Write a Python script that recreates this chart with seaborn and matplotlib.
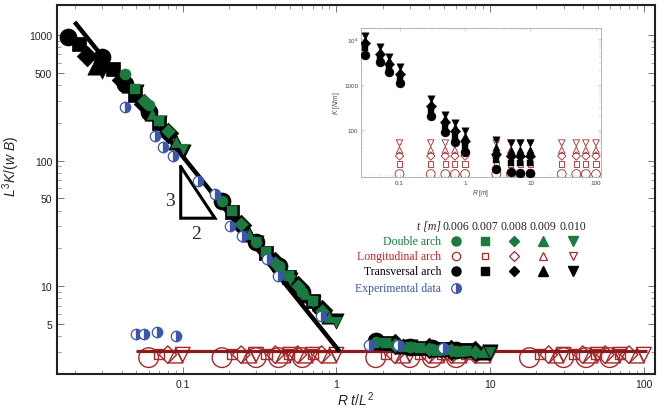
"""Collapse of arch stiffness data: L^3 K/(w B) vs R t/L^2, with K(R) inset"""

import numpy as np
import pandas as pd
import matplotlib
matplotlib.use("Agg")
import matplotlib.pyplot as plt
import matplotlib.ticker as mticker
import seaborn as sns

# ---- data -------------------------------------------------------------
L2 = 0.01  # L = 0.1 m
t_vals = [0.006, 0.007, 0.008, 0.009, 0.010]
t_labels = ["0.006", "0.007", "0.008", "0.009", "0.010"]
t_markers = ["o", "s", "D", "^", "v"]

# transversal arch (black), one row per R, one value per t
R_trans = [0.03, 0.05, 0.07, 0.1, 0.3, 0.5, 0.7, 1, 3, 5, 7, 10]
y_trans = [
    [960, 850, 680, 560, 515],
    [668, 535, 440, 400, 350],
    [410, 330, 280, 240, 200],
    [245, 200, 165, 140, 118],
    [48, 39, 31, 26, 22],
    [22.5, 18.5, 15.5, 13, 11.3],
    [14.5, 11.8, 10, 8.5, 7.4],
    [9, 7.6, 6.5, 5.8, 5.3],
    [3.65, 3.55, 3.45, 3.35, 3.3],
    [3.3, 3.25, 3.2, 3.15, 3.12],
    [3.2, 3.15, 3.1, 3.08, 3.05],
    [3.1, 3.08, 3.05, 3.02, 3.0],
]

# double arch (green)
R_double = [0.07, 0.1, 0.3, 0.5, 0.7, 1, 3, 5, 7, 10]
y_double = [
    [490, 372, 300, 235, 205],
    [277, 207, 172, 140, 123],
    [47.5, 39.6, 31.2, 26, 22.4],
    [22.4, 18.6, 15.2, 13, 11.3],
    [14.4, 12, 10, 8.6, 7.5],
    [9, 7.6, 6.4, 5.7, 5.2],
    [3.6, 3.5, 3.4, 3.35, 3.27],
    [3.27, 3.2, 3.15, 3.1, 3.09],
    [3.15, 3.1, 3.08, 3.05, 3.05],
    [3.05, 3.05, 3.02, 3.0, 3.0],
]

# longitudinal arch (red, hollow), same value for every R
R_long = [0.1, 0.3, 0.5, 0.7, 1, 3, 5, 7, 10, 30, 50, 70, 100]
y_long = [2.7, 2.9, 2.85, 2.8, 2.85]

# experimental data (blue half-filled)
exp_x = [0.042, 0.066, 0.074, 0.086, 0.125, 0.162, 0.202, 0.242, 0.352,
         0.417, 0.795, 0.050, 0.0557, 0.068, 0.090, 1.64, 2.5, 4.9]
exp_y = [267, 157, 128, 109, 69, 54, 30, 25, 16.4,
         12, 5.75, 4.2, 4.2, 4.3, 4.0, 3.4, 3.4, 3.2]

# reference lines
slope_x = [0.0198, 1.046]
slope_y = [1270, 3.03]
flat_x = [0.05, 105]
flat_y = [3.03, 3.03]
tri_x = [0.097, 0.097, 0.162, 0.097]
tri_y = [89.6, 34.8, 34.8, 89.6]

# inset: K [N/m] vs R [m]
K_trans = [
    [4500, 6500, 8000, 9500, 11500],
    [3100, 3900, 4600, 5500, 6600],
    [1870, 2400, 2900, 3400, 4000],
    [1070, 1400, 1700, 2000, 2400],
    [205, 270, 330, 400, 480],
    [92, 120, 150, 180, 215],
    [55, 75, 95, 115, 140],
    [33, 45, 58, 75, 95],
    [13.8, 22, 30, 42, 60],
    [12, 18.7, 27, 36, 53],
    [11.5, 19, 27, 37, 52],
    [11.5, 19, 27, 37, 52],
]
K_long = [10.8, 17.9, 26.9, 36.3, 51.8]

# ---- tables -----------------------------------------------------------
rows = []
for i, R in enumerate(R_trans):
    for j, t in enumerate(t_vals):
        rows.append(("trans", R, j, R * t / L2, y_trans[i][j], K_trans[i][j]))
for i, R in enumerate(R_double):
    for j, t in enumerate(t_vals):
        rows.append(("double", R, j, R * t / L2, y_double[i][j], np.nan))
for R in R_long:
    for j, t in enumerate(t_vals):
        rows.append(("long", R, j, R * t / L2, y_long[j], K_long[j]))
df = pd.DataFrame(rows, columns=["arch", "R", "ti", "x", "y", "K"])

GREEN = "#1b7a3f"
RED = "#a8282b"
DRED = "#8b1a1a"
BLUE = "#3b56ad"

sns.set_theme(style="ticks")
plt.rcParams["font.family"] = ["Liberation Sans", "DejaVu Sans"]
plt.rcParams["mathtext.fontset"] = "custom"
plt.rcParams["mathtext.it"] = "Liberation Sans:italic"
plt.rcParams["mathtext.rm"] = "Liberation Sans"

fig = plt.figure(figsize=(6.64, 4.14), dpi=100)
ax = fig.add_axes([0.0858, 0.0942, 0.9006, 0.8913])

# red hollow markers
long_sizes = [200, 55, 80, 110, 110]
for j, m in enumerate(t_markers):
    d = df[(df.arch == "long") & (df.ti == j)]
    sns.scatterplot(data=d, x="x", y="y", ax=ax, marker=m, s=long_sizes[j],
                    facecolors="none", edgecolor=RED, linewidth=1.0,
                    zorder=2, legend=False)

ax.plot(flat_x, flat_y, color=DRED, lw=2.3, zorder=3, solid_capstyle="butt")
ax.plot(slope_x, slope_y, color="black", lw=3.2, zorder=3, solid_capstyle="butt")

trans_sizes = [150, 100, 110, 120, 120]
for j, m in enumerate(t_markers):
    d = df[(df.arch == "trans") & (df.ti == j)]
    sns.scatterplot(data=d, x="x", y="y", ax=ax, marker=m, s=trans_sizes[j],
                    color="black", edgecolor="black", linewidth=0.5,
                    zorder=4, legend=False)

double_sizes = [65, 45, 50, 60, 60]
for j, m in enumerate(t_markers):
    d = df[(df.arch == "double") & (df.ti == j)]
    sns.scatterplot(data=d, x="x", y="y", ax=ax, marker=m, s=double_sizes[j],
                    color=GREEN, edgecolor=GREEN, linewidth=0.3,
                    zorder=5, legend=False)

ax.plot(exp_x, exp_y, linestyle="none", marker="o", ms=7.5, fillstyle="right",
        markerfacecolor=BLUE, markerfacecoloralt="white",
        markeredgecolor=BLUE, markeredgewidth=0.9, zorder=6)

# slope triangle
ax.plot(tri_x, tri_y, color="black", lw=2.2, zorder=3, solid_joinstyle="miter")
ax.text(0.082, 48.4, "3", fontsize=14, family=["Liberation Serif"],
        ha="center", va="center")
ax.text(0.122, 26.4, "2", fontsize=14, family=["Liberation Serif"],
        ha="center", va="center")

ax.set_xscale("log")
ax.set_yscale("log")
ax.set_xlim(0.0152, 118)
ax.set_ylim(2.0, 1734)
ax.set_xticks([0.1, 1, 10, 100])
ax.set_xticklabels(["0.1", "1", "10", "100"])
ax.set_yticks([5, 10, 50, 100, 500, 1000])
ax.set_yticklabels(["5", "10", "50", "100", "500", "1000"])
ax.xaxis.set_minor_locator(mticker.LogLocator(subs=np.arange(2, 10)))
ax.yaxis.set_minor_locator(mticker.LogLocator(subs=np.arange(2, 10)))
ax.xaxis.set_minor_formatter(mticker.NullFormatter())
ax.yaxis.set_minor_formatter(mticker.NullFormatter())
ax.tick_params(which="both", direction="in", top=True, right=True,
               color="#777777", labelsize=7.5, labelcolor="#222222")
ax.tick_params(which="major", length=5, width=0.7)
ax.tick_params(which="minor", length=3, width=0.5)
for sp in ax.spines.values():
    sp.set_linewidth(1.5)
    sp.set_color("#222222")

ax.set_xlabel(r"$R\ t/L^{2}$", fontsize=10)
ax.set_ylabel(r"$L^{3}K/(w\ B)$", fontsize=10)
ax.xaxis.set_label_coords(0.50, -0.043)
ax.yaxis.set_label_coords(-0.058, 0.565)

# ---- inset ------------------------------------------------------------
axi = fig.add_axes([0.544, 0.570, 0.361, 0.360])
in_long_sizes = [40, 14, 18, 22, 22]
in_trans_sizes = [42, 25, 28, 28, 28]
for j, m in enumerate(t_markers):
    d = df[(df.arch == "long") & (df.ti == j)]
    sns.scatterplot(data=d, x="R", y="K", ax=axi, marker=m, s=in_long_sizes[j],
                    facecolors="none", edgecolor=RED, linewidth=0.6,
                    zorder=2, legend=False)
for j, m in enumerate(t_markers):
    d = df[(df.arch == "trans") & (df.ti == j)]
    sns.scatterplot(data=d, x="R", y="K", ax=axi, marker=m, s=in_trans_sizes[j],
                    color="black", edgecolor="black", linewidth=0.3,
                    zorder=3, legend=False)
axi.set_xscale("log")
axi.set_yscale("log")
axi.set_xlim(0.026, 119)
axi.set_ylim(9.3, 17500)
axi.set_xticks([0.1, 1, 10, 100])
axi.set_xticklabels(["0.1", "1", "10", "100"])
axi.set_yticks([100, 1000, 10000])
axi.set_yticklabels(["100", "1000", r"10$^4$"])
axi.xaxis.set_minor_locator(mticker.LogLocator(subs=np.arange(2, 10)))
axi.yaxis.set_minor_locator(mticker.LogLocator(subs=np.arange(2, 10)))
axi.xaxis.set_minor_formatter(mticker.NullFormatter())
axi.yaxis.set_minor_formatter(mticker.NullFormatter())
axi.tick_params(which="both", direction="in", top=True, right=True,
                color="#aaaaaa", labelsize=4.5, labelcolor="#444444", pad=2)
axi.tick_params(which="major", length=2.5, width=0.4)
axi.tick_params(which="minor", length=1.5, width=0.3)
for sp in axi.spines.values():
    sp.set_linewidth(0.6)
    sp.set_color("#aaaaaa")
axi.set_xlabel(r"$R$ [$m$]", fontsize=4.8, color="#444444", labelpad=1.5)
axi.set_ylabel(r"$K$ [$N/m$]", fontsize=4.8, color="#444444", labelpad=1.5)

# ---- hand-made legend -------------------------------------------------
W, H = 664.0, 414.0
def fx(px):
    return px / W
def fy(py):
    return 1 - py / H

serif = ["Liberation Serif", "DejaVu Serif"]
col_x = [456, 485, 514, 543, 573]
fig.text(fx(441), fy(227), "t [m]", fontsize=8.5, family=serif, style="italic",
         ha="right", va="center")
for cx, lab in zip(col_x, t_labels):
    fig.text(fx(cx), fy(227), lab, fontsize=8.5, family=serif,
             ha="center", va="center")

row_labels = ["Double arch", "Longitudinal arch", "Transversal arch", "Experimental data"]
row_colors = [GREEN, "#c0272d", "black", BLUE]
row_y = [242, 257, 272, 289]
for lab, c, ry in zip(row_labels, row_colors, row_y):
    fig.text(fx(441), fy(ry), lab, fontsize=8.5, family=serif, color=c,
             ha="right", va="center")

for cx, m in zip(col_x, t_markers):
    ms = 6.5 if m in ("o", "^", "v") else 5.5
    fig.lines.append(plt.Line2D([fx(cx)], [fy(242)], marker=m, ms=ms, color=GREEN,
                                linestyle="none", transform=fig.transFigure))
    fig.lines.append(plt.Line2D([fx(cx)], [fy(257)], marker=m, ms=ms - 0.5,
                                markerfacecolor="none", markeredgecolor=RED,
                                markeredgewidth=0.9, linestyle="none",
                                transform=fig.transFigure))
    fig.lines.append(plt.Line2D([fx(cx)], [fy(272)], marker=m, ms=ms, color="black",
                                linestyle="none", transform=fig.transFigure))
fig.lines.append(plt.Line2D([fx(col_x[0])], [fy(289)], marker="o", ms=7,
                            fillstyle="right", markerfacecolor=BLUE,
                            markerfacecoloralt="white", markeredgecolor=BLUE,
                            markeredgewidth=0.9, linestyle="none",
                            transform=fig.transFigure))

fig.savefig("out.png", dpi=100)
plt.close(fig)
